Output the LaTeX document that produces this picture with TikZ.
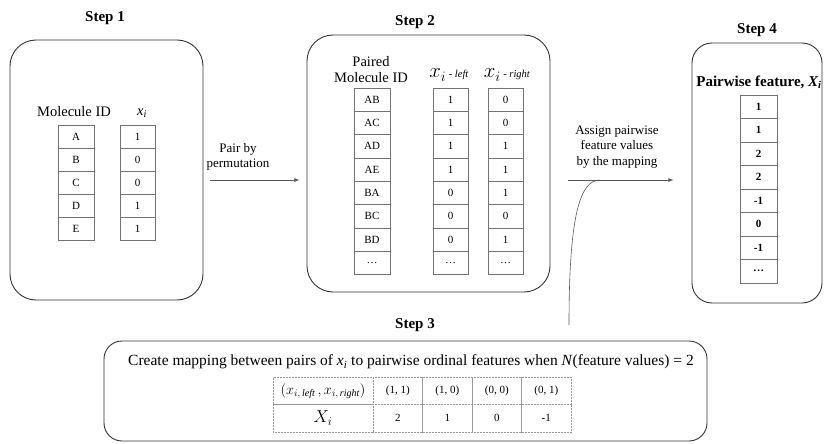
\documentclass[tikz,border=0pt]{standalone}
\usepackage{fontspec}
\setmainfont{Liberation Serif}
\usetikzlibrary{positioning,calc}

\tikzset{
  >=latex,
  panel/.style={draw=black!80, line width=0.9pt, rounded corners=26pt, inner sep=0pt},
  steplabel/.style={font=\fontsize{15}{17}\selectfont\bfseries},
  cell/.style={draw=black!55, line width=0.6pt, minimum width=36pt, minimum height=23pt, inner sep=0pt, font=\fontsize{11}{12}\selectfont},
  head/.style={font=\fontsize{14.5}{16}\selectfont, align=center},
  note/.style={font=\fontsize{13}{15.5}\selectfont, align=center},
  flow/.style={->, draw=black!65, line width=0.8pt},
  mapcell/.style={draw=black!40, densely dotted, line width=0.5pt, minimum width=49.5pt, minimum height=27.5pt, inner sep=0pt, font=\fontsize{11}{12}\selectfont}
}

\begin{document}
\begin{tikzpicture}[x=1pt, y=-1pt]
\useasboundingbox (0,0) rectangle (825,444);

% Rounded panels for the four steps
\node[panel, minimum width=193pt, minimum height=260pt] (box1) at (106.5,170) {};
\node[panel, minimum width=243pt, minimum height=257pt] (box2) at (428.5,163.5) {};
\node[panel, rounded corners=20pt, minimum width=130pt, minimum height=260pt] (box4) at (757,173) {};
\node[panel, rounded corners=18pt, minimum width=603pt, minimum height=100pt] (box3) at (405.5,391) {};

% Step titles
\node[steplabel] (step1) at (105,18) {Step 1};
\node[steplabel] (step2) at (415,22) {Step 2};
\node[steplabel] (step3) at (415,325) {Step 3};
\node[steplabel] (step4) at (757,30) {Step 4};

% Step 1: single molecules and their values
\node[head] (molid) at (74,112) {Molecule ID};
\node[head] (xhead) at (142,113) {\textit{x\textsubscript{i}}};
\foreach \v [count=\k] in {A,B,C,D,E}
  \node[cell] (id\k) at (76,{113.5+23*\k}) {\v};
\foreach \v [count=\k] in {1,0,0,1,1}
  \node[cell, minimum width=35pt] (x\k) at (137.5,{113.5+23*\k}) {\v};

% Step 2: molecule pairs
\node[head] (pairid) at (371,70) {Paired\\Molecule ID};
\node (lefthead) at (449,75) {{\fontsize{20}{21}\selectfont$x_i$}{\fontsize{10.5}{11}\selectfont\textit{ - left}}};
\node (righthead) at (507,75) {{\fontsize{20}{21}\selectfont$x_i$}{\fontsize{10.5}{11}\selectfont\textit{ - right}}};
\foreach \v/\l/\r [count=\k] in {AB/1/0, AC/1/0, AD/1/1, AE/1/1, BA/0/1, BC/0/0, BD/0/1, \dots/\dots/\dots} {
  \node[cell, minimum height=23.3pt] (pid\k) at (372,{76.35+23.3*\k}) {\v};
  \node[cell, minimum width=35pt, minimum height=23.3pt] (xl\k) at (450.5,{76.35+23.3*\k}) {\l};
  \node[cell, minimum width=35pt, minimum height=23.3pt] (xr\k) at (505.5,{76.35+23.3*\k}) {\r};
}

% Step 4: resulting pairwise feature
\node[steplabel] (pwhead) at (759,82) {Pairwise feature, \textit{X\textsubscript{i}}};
\foreach \v [count=\k] in {1,1,2,2,-1,0,-1,\dots}
  \node[cell, minimum width=37pt, minimum height=23.5pt, font=\fontsize{11}{12}\selectfont\bfseries] (pw\k) at (758.5,{83.25+23.5*\k}) {\v};

% Step 3: mapping table
\node[font=\fontsize{15.5}{17}\selectfont] (maptext) at (411,362) {Create mapping between pairs of \textit{x\textsubscript{i}} to pairwise ordinal features when \textit{N}(feature values) = 2};
\node[mapcell, minimum width=100pt] (mh0) at (323,390.75) {\fontsize{14.4}{15}\selectfont$(x_{i,\,\mathit{left}}\,,x_{i,\,\mathit{right}})$};
\node[mapcell, minimum width=100pt] (mv0) at (323,418.25) {\fontsize{17}{18}\selectfont$X_i$};
\foreach \p/\q [count=\k] in {(1, 1)/2, (1, 0)/1, (0, 0)/0, (0, 1)/-1} {
  \node[mapcell] (mh\k) at ({348.25+49.5*\k},390.75) {\p};
  \node[mapcell] (mv\k) at ({348.25+49.5*\k},418.25) {\q};
}

% Connectors between the steps
\node[note] (pairlbl) at (238,157) {Pair by\\permutation};
\draw[flow] ($(box1.east)+(7,10)$) -- ($(box2.west)+(-7,16.5)$);

\node[note] (assignlbl) at (617,147) {Assign pairwise\\feature values\\by the mapping};
\draw[flow] ($(box2.east)+(18,16.5)$) -- coordinate[pos=0.3] (join) ($(box4.west)+(-18,7)$);

\coordinate (c3) at (569,325);
\draw[draw=black!65, line width=0.6pt] (c3) .. controls +(0,-110) and +(-20,0) .. (join);

\end{tikzpicture}
\end{document}
